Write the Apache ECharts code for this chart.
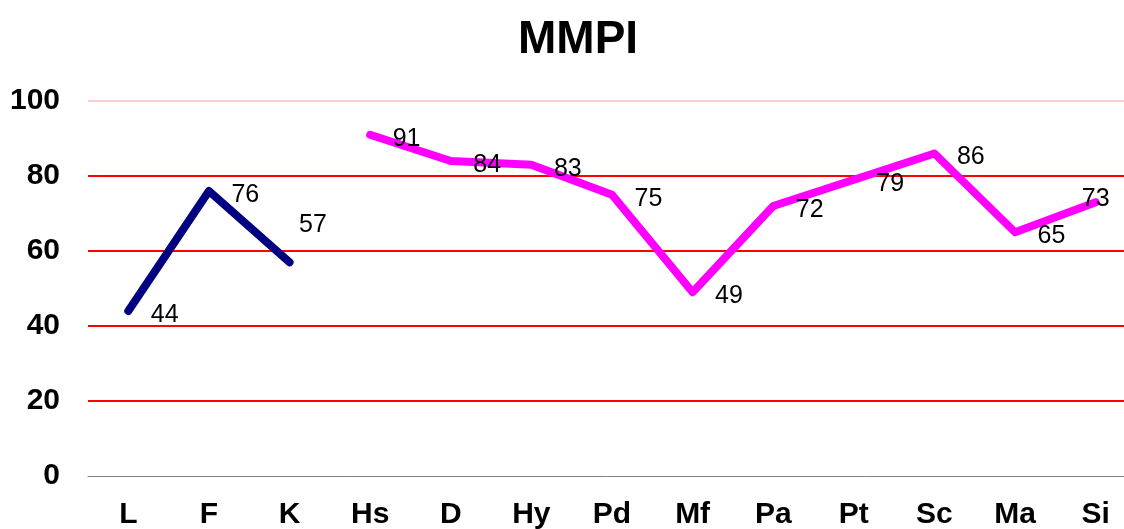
<!DOCTYPE html>
<html>
<head>
<meta charset="utf-8">
<script src="https://cdn.jsdelivr.net/npm/echarts@6/dist/echarts.min.js"></script>
<style>
  html, body { margin: 0; padding: 0; background: #fff; }
  #chart { width: 1124px; height: 529px; }
</style>
</head>
<body>
<div id="chart"></div>
<script>
// 量表与得分
const scales = ['L', 'F', 'K', 'Hs', 'D', 'Hy', 'Pd', 'Mf', 'Pa', 'Pt', 'Sc', 'Ma', 'Si'];
const validityScores = [44, 76, 57, '-', '-', '-', '-', '-', '-', '-', '-', '-', '-'];
const clinicalScores = ['-', '-', '-', 91, 84, 83, 75, 49, 72, 79, 86, 65, 73];
const yTicks = [0, 20, 40, 60, 80, 100];

const FONT = '"Liberation Sans", Arial, sans-serif';

// 个别标签位置微调
const labelTweaks = {
    2: { position: 'right', distance: 9, offset: [0, -37] },
    12: { position: 'inside', offset: [0, -3] }
};

function withTweaks(values) {
    return values.map(function (v, i) {
        if (v === '-' || !labelTweaks[i]) return v;
        return { value: v, label: labelTweaks[i] };
    });
}

const baseLabel = {
    show: true,
    position: 'right',
    distance: 22,
    offset: [0, 4],
    color: '#000',
    fontFamily: FONT,
    fontSize: 25
};

const option = {
    animation: false,
    backgroundColor: '#fff',
    title: {
        text: 'MMPI',
        left: 513,
        top: 12,
        textStyle: {
            fontFamily: FONT,
            fontSize: 46,
            fontWeight: 'bold',
            color: '#000'
        }
    },
    grid: {
        left: 88,
        width: 1048,
        top: 101,
        bottom: 53,
        outerBoundsMode: 'none'
    },
    xAxis: {
        type: 'category',
        data: scales,
        boundaryGap: true,
        axisLine: { lineStyle: { color: '#808080', width: 1 } },
        axisTick: { length: 9, lineStyle: { color: '#808080' } },
        axisLabel: {
            fontFamily: FONT,
            fontSize: 30,
            fontWeight: 'bold',
            color: '#000',
            margin: 24
        }
    },
    yAxis: {
        type: 'value',
        min: yTicks[0],
        max: yTicks[yTicks.length - 1],
        interval: 20,
        axisLine: { show: false },
        axisTick: { show: false },
        axisLabel: {
            fontFamily: FONT,
            fontSize: 30,
            fontWeight: 'bold',
            color: '#000',
            margin: 28
        },
        splitLine: {
            lineStyle: {
                color: ['transparent', '#ff0000', '#ff0000', '#ff0000', '#ff0000', '#ffcccc'],
                width: 2
            }
        }
    },
    series: [
        {
            name: 'validity',
            type: 'line',
            data: withTweaks(validityScores),
            symbol: 'circle',
            symbolSize: 1,
            showSymbol: true,
            itemStyle: { color: '#000080' },
            lineStyle: { color: '#000080', width: 8, cap: 'round', join: 'round' },
            label: baseLabel
        },
        {
            name: 'clinical',
            type: 'line',
            data: withTweaks(clinicalScores),
            symbol: 'circle',
            symbolSize: 1,
            showSymbol: true,
            itemStyle: { color: '#ff00ff' },
            lineStyle: { color: '#ff00ff', width: 8, cap: 'round', join: 'round' },
            label: baseLabel
        }
    ]
};

const chart = echarts.init(document.getElementById('chart'));
chart.setOption(option);
</script>
</body>
</html>
